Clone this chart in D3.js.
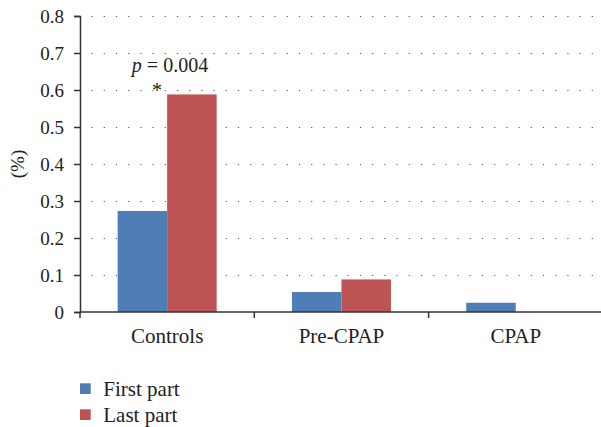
<!DOCTYPE html>
<html>
<head>
<meta charset="utf-8">
<script src="https://d3js.org/d3.v7.min.js"></script>
<style>
  body { margin: 0; padding: 0; background: #fff; }
</style>
</head>
<body>
<script>
var categories = ["Controls", "Pre-CPAP", "CPAP"];
var seriesNames = ["First part", "Last part"];
var firstPart = [0.273, 0.054, 0.025];
var lastPart = [0.588, 0.088, 0];
var yTicks = [0, 0.1, 0.2, 0.3, 0.4, 0.5, 0.6, 0.7, 0.8];
var colors = ["#4f7db5", "#bb5453"];

var width = 601, height = 427;
var m = { left: 80, right: 0, top: 16, bottom: 115 };
var font = "'Liberation Serif', 'DejaVu Serif', serif";

var svg = d3.select("body").append("svg")
  .attr("width", width).attr("height", height)
  .attr("font-family", font);

var x = d3.scaleBand().domain(categories).range([m.left, m.left + 3 * 174.3]);
var xs = d3.scaleBand().domain(seriesNames).range([0, x.bandwidth()]).paddingInner(0).paddingOuter(0.76);
var y = d3.scaleLinear().domain([0, 0.8]).range([height - m.bottom, m.top]);

// dotted grid
svg.append("g").selectAll("line").data(yTicks.slice(1)).join("line")
  .attr("x1", m.left + 11.5).attr("x2", width)
  .attr("y1", d => Math.round(y(d)) + 0.5).attr("y2", d => Math.round(y(d)) + 0.5)
  .attr("stroke", "#555").attr("stroke-width", 1.2)
  .attr("stroke-dasharray", "1.2,11");

var rows = categories.map((c, i) => ({ cat: c, vals: [firstPart[i], lastPart[i]] }));

svg.append("g").selectAll("g").data(rows).join("g")
  .attr("transform", d => "translate(" + x(d.cat) + ",0)")
  .selectAll("rect").data(d => d.vals.map((v, j) => ({ v: v, s: seriesNames[j], j: j })))
  .join("rect")
  .attr("x", d => xs(d.s))
  .attr("width", xs.bandwidth())
  .attr("y", d => y(d.v))
  .attr("height", d => y(0) - y(d.v))
  .attr("fill", d => colors[d.j]);

// y axis
var yAxis = svg.append("g").attr("transform", "translate(" + m.left + ",0)")
  .call(d3.axisLeft(y).tickValues(yTicks).tickFormat(d => d === 0 ? "0" : d3.format(".1f")(d)).tickSize(6).tickPadding(10))
  .attr("font-family", font).attr("font-size", 19);
yAxis.select(".domain").attr("stroke", "#333").attr("stroke-width", 1.5);
yAxis.selectAll(".tick line").attr("stroke", "#333").attr("stroke-width", 1.5);
yAxis.selectAll("text").attr("fill", "#222");

// x axis
var xAxis = svg.append("g").attr("transform", "translate(0," + y(0) + ")")
  .call(d3.axisBottom(x).tickSize(0).tickPadding(16))
  .attr("font-family", font).attr("font-size", 21);
xAxis.select(".domain").attr("d", "M" + m.left + ",0H" + width).attr("stroke", "#333").attr("stroke-width", 1.5);
xAxis.selectAll("text").attr("fill", "#222");
xAxis.selectAll(".sep").data(categories).join("line").attr("class", "sep")
  .attr("x1", d => x(d)).attr("x2", d => x(d))
  .attr("y1", 0).attr("y2", 6)
  .attr("stroke", "#333").attr("stroke-width", 1.5);

// y label
svg.append("text")
  .attr("transform", "translate(17," + y(0.4) + ") rotate(-90)")
  .attr("text-anchor", "middle").attr("dy", "0.35em")
  .attr("font-size", 19).attr("fill", "#222").text("(%)");

// annotation
var ann = svg.append("text").attr("x", 170).attr("y", 72)
  .attr("text-anchor", "middle").attr("font-size", 20).attr("fill", "#222");
ann.append("tspan").attr("font-style", "italic").text("p");
ann.append("tspan").text(" = 0.004");
svg.append("text").attr("x", 157).attr("y", 97)
  .attr("text-anchor", "middle").attr("font-size", 20).attr("fill", "#222").text("*");

// legend
var leg = svg.append("g").selectAll("g").data(seriesNames).join("g")
  .attr("transform", (d, i) => "translate(80," + (383.3 + i * 26) + ")");
leg.append("rect").attr("width", 10.7).attr("height", 10.7).attr("fill", (d, i) => colors[i]);
leg.append("text").attr("x", 23.3).attr("y", 12.7).attr("font-size", 21).attr("fill", "#222").text(d => d);
</script>
</body>
</html>
